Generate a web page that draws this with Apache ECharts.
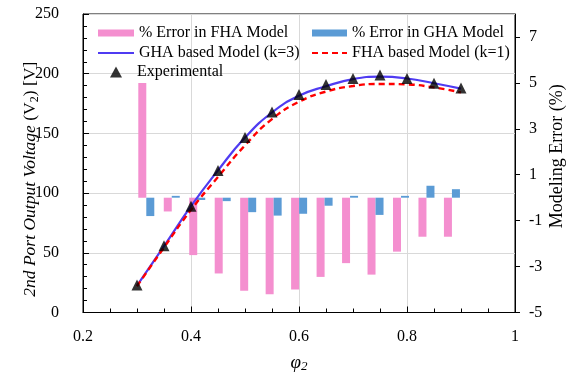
<!DOCTYPE html>
<html>
<head>
<meta charset="utf-8">
<script src="https://cdn.jsdelivr.net/npm/echarts@6/dist/echarts.min.js"></script>
<style>html,body{margin:0;padding:0;background:#fff}#c{width:572px;height:373px}</style>
</head>
<body>
<div id="c"></div>
<script>
// ---- data ----
var phi = [0.3, 0.35, 0.4, 0.45, 0.5, 0.55, 0.6, 0.65, 0.7, 0.75, 0.8, 0.85, 0.9];
var experimentalV = [23, 56, 89, 119, 146.5, 168, 182.5, 191, 196, 199, 196, 192, 188];
var ghaModelV = [22.5, 55.5, 89, 119, 146.5, 167.5, 181.5, 189.5, 195.5, 197.5, 196, 192, 187.5];
var fhaModelV = [22, 54.5, 86, 113.5, 140, 162, 176.5, 185, 189.7, 191.4, 191, 188.5, 184.3];
var fhaErrorPct = [5.0, -0.6, -2.5, -3.3, -4.05, -4.2, -4.0, -3.45, -2.85, -3.35, -2.35, -1.7, -1.7];
var ghaErrorPct = [-0.8, 0.08, -0.1, -0.15, -0.63, -0.78, -0.7, -0.35, 0.08, -0.75, 0.08, 0.52, 0.37];
var xTicks = [0.2, 0.4, 0.6, 0.8, 1];
var leftTicks = [0, 50, 100, 150, 200, 250];
var rightTicks = [-5, -3, -1, 1, 3, 5, 7];

function pairs(xs, ys) { return xs.map(function (x, i) { return [x, ys[i]]; }); }

var FONT = '"Liberation Serif", "Times New Roman", serif';
var chart = echarts.init(document.getElementById('c'), null, { renderer: 'canvas' });

var hideSym = { opacity: 0 };
var option = {
  animation: false,
  backgroundColor: '#fff',
  textStyle: { fontFamily: FONT },
  grid: { left: 83, right: 57, top: 14, bottom: 60.5, show: true, borderColor: '#000', borderWidth: 1, containLabel: false, outerBoundsMode: 'none' },
  legend: [
    {
      orient: 'vertical', left: 92, top: 20, itemWidth: 36, itemHeight: 7, itemGap: 4,
      textStyle: { fontFamily: FONT, fontSize: 16, color: '#000', lineHeight: 16 },
      data: [{ name: '% Error in FHA Model', icon: 'rect' }, { name: 'GHA based Model (k=3)', itemStyle: hideSym }]
    },
    {
      orient: 'vertical', left: 306, top: 20, itemWidth: 35, itemHeight: 7, itemGap: 4,
      textStyle: { fontFamily: FONT, fontSize: 16, color: '#000', lineHeight: 16 },
      data: [{ name: '% Error in GHA Model', icon: 'rect' }, { name: 'FHA based Model (k=1)', itemStyle: hideSym }]
    },
    {
      orient: 'vertical', left: 105, top: 59, itemWidth: 12, itemHeight: 11,
      textStyle: { fontFamily: FONT, fontSize: 16, color: '#000', lineHeight: 16, padding: [0, 0, 0, 10] },
      data: [{ name: 'Experimental', icon: 'triangle' }]
    }
  ],
  xAxis: [
    {
      type: 'value', min: 0.2, max: 1, interval: 0.2,
      axisLine: { show: true, lineStyle: { color: '#000', width: 1 } },
      axisTick: { show: true, inside: true, length: 6, lineStyle: { color: '#000' } },
      minorTick: { show: true, splitNumber: 4, length: 4, lineStyle: { color: '#000' } },
      splitLine: { show: true, lineStyle: { color: '#d9d9d9', width: 1 } },
      axisLabel: {
        fontFamily: FONT, fontSize: 16, color: '#000', margin: 16,
        formatter: function (v) { var t = xTicks.filter(function (k) { return Math.abs(k - v) < 1e-9; }); return t.length ? String(t[0]) : ''; }
      },
      name: '{p|φ}{s|2}', nameLocation: 'middle', nameGap: 39, nameMoveOverlap: false,
      nameTextStyle: {
        rich: {
          p: { fontFamily: FONT, fontStyle: 'italic', fontSize: 19, color: '#000', lineHeight: 22 },
          s: { fontFamily: FONT, fontStyle: 'italic', fontSize: 13, color: '#000', lineHeight: 12, verticalAlign: 'bottom' }
        }
      }
    },
    {
      type: 'value', min: 0.17574, max: 1.0238, show: false
    }
  ],
  yAxis: [
    {
      type: 'value', min: leftTicks[0], max: leftTicks[leftTicks.length - 1], interval: 50,
      axisLine: { show: true, lineStyle: { color: '#000', width: 1 } },
      axisTick: { show: true, inside: true, length: 6, lineStyle: { color: '#000' } },
      minorTick: { show: true, splitNumber: 5, length: 4, lineStyle: { color: '#000' } },
      splitLine: { show: true, lineStyle: { color: '#d9d9d9', width: 1 } },
      axisLabel: { fontFamily: FONT, fontSize: 16, color: '#000', margin: 24 },
      name: '{a|2nd Port Output Voltage }{b|(V}{s|2}{b|) [V]}', nameLocation: 'middle', nameGap: 42, nameMoveOverlap: false,
      nameTextStyle: {
        padding: [0, 32, 0, 0],
        rich: {
          a: { fontFamily: FONT, fontStyle: 'italic', fontSize: 17.5, color: '#000', lineHeight: 22 },
          b: { fontFamily: FONT, fontSize: 17.5, color: '#000', lineHeight: 22 },
          s: { fontFamily: FONT, fontSize: 12, color: '#000', lineHeight: 12, verticalAlign: 'bottom' }
        }
      }
    },
    {
      type: 'value', position: 'right', min: rightTicks[0], max: 8, interval: 2,
      axisLine: { show: true, lineStyle: { color: '#000', width: 1 } },
      axisTick: { show: true, inside: false, length: 5, lineStyle: { color: '#000' } },
      splitLine: { show: false },
      axisLabel: { fontFamily: FONT, fontSize: 16, color: '#000', margin: 14, showMaxLabel: false },
      name: 'Modeling Error (%)', nameLocation: 'middle', nameGap: 33, nameMoveOverlap: false,
      nameTextStyle: { fontFamily: FONT, fontSize: 18, color: '#000', padding: [0, 0, 0, 14] }
    }
  ],
  series: [
    {
      name: '% Error in FHA Model', type: 'bar', xAxisIndex: 1, yAxisIndex: 1,
      barWidth: 8, barGap: '0%',
      itemStyle: { color: '#F48FCF' },
      data: pairs(phi, fhaErrorPct), z: 1
    },
    {
      name: '% Error in GHA Model', type: 'bar', xAxisIndex: 1, yAxisIndex: 1,
      barWidth: 8, barGap: '0%',
      itemStyle: { color: '#5B9BD5' },
      data: pairs(phi, ghaErrorPct), z: 1
    },
    {
      name: 'GHA based Model (k=3)', type: 'line', xAxisIndex: 0, yAxisIndex: 0,
      smooth: 0.5, symbol: 'none', showSymbol: false,
      lineStyle: { color: '#4F3BF2', width: 2.2 }, itemStyle: { color: '#4F3BF2' },
      data: pairs(phi, ghaModelV), z: 3
    },
    {
      name: 'FHA based Model (k=1)', type: 'line', xAxisIndex: 0, yAxisIndex: 0,
      smooth: 0.5, symbol: 'none', showSymbol: false,
      lineStyle: { color: '#FF0000', width: 2.4, type: [6, 4] }, itemStyle: { color: '#FF0000' },
      data: pairs(phi, fhaModelV), z: 4
    },
    {
      name: 'Experimental', type: 'scatter', xAxisIndex: 0, yAxisIndex: 0,
      symbol: 'triangle', symbolSize: 11,
      itemStyle: { color: '#000' },
      data: pairs(phi, experimentalV), z: 5
    }
  ]
};
chart.setOption(option);
</script>
</body>
</html>
